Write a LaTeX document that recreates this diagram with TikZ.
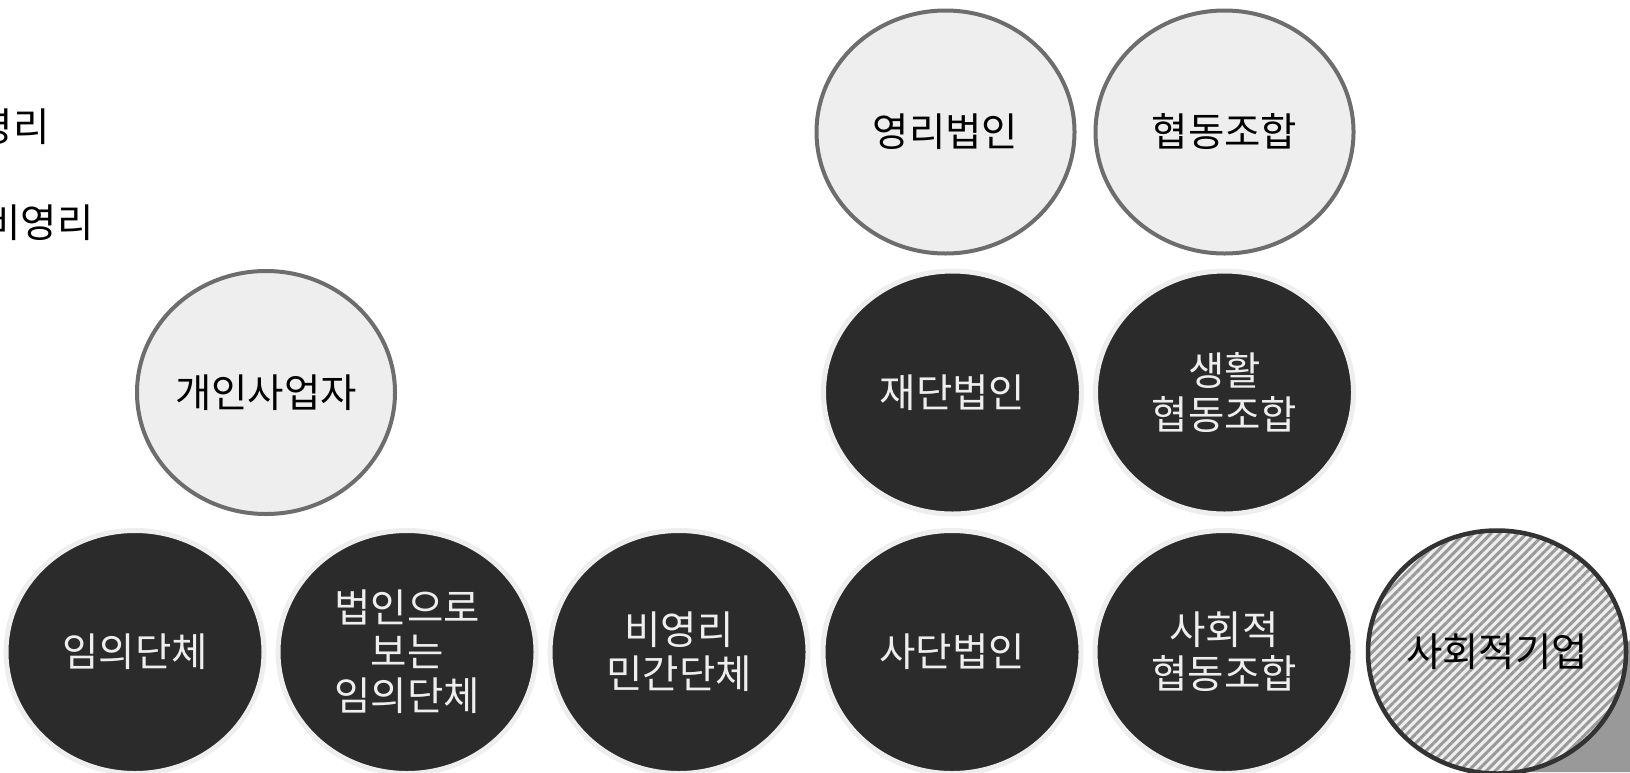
\documentclass[tikz,border=0pt]{standalone}
\usepackage{fontspec}
\newfontfamily\krfont{Noto Sans CJK KR}
\usetikzlibrary{shapes.geometric,patterns.meta}

\definecolor{lightgr}{HTML}{EEEEEE}
\definecolor{rimgr}{HTML}{6D6D6D}
\definecolor{darkgr}{HTML}{2B2B2B}
\definecolor{hatchgr}{HTML}{9A9A9A}
\definecolor{edgegr}{HTML}{333333}
\definecolor{cornergr}{HTML}{999999}

\tikzset{
  org/.style={ellipse, minimum width=5.16cm, minimum height=4.86cm, inner sep=0pt,
    align=center, font=\krfont\fontsize{22.5}{25}\selectfont},
  profit/.style={org, fill=lightgr, draw=rimgr, line width=0.08cm, text=black},
  nonprofit/.style={org, fill=darkgr, draw=lightgr, line width=0.1cm, text=lightgr},
  mixed/.style={org, draw=edgegr, line width=0.09cm, preaction={fill=lightgr},
    pattern={Lines[angle=45,distance=3.6pt,line width=1.7pt]}, pattern color=hatchgr},
  legend/.style={anchor=east, inner sep=0pt, font=\krfont\fontsize{22.5}{25}\selectfont}
}

\begin{document}
\begin{tikzpicture}
\useasboundingbox (0,0) rectangle (32.6,-15.44);

\fill[cornergr] (32.6,-12.8) -- (32.6,-15.44) -- (30.4,-15.44) -- cycle;

\node[legend] (forprofit) at (1.0,-2.54) {영리};
\node[legend] (notprofit) at (1.88,-4.46) {비영리};

% top row
\node[profit] (corp) at (18.91,-2.64) {영리법인};
\node[profit] (coop) at (24.49,-2.64) {협동조합};

% middle row
\node[profit] (sole) at (5.32,-7.85) {개인사업자};
\node[nonprofit] (found) at (19.05,-7.85) {재단법인};
\node[nonprofit] (lifecoop) at (24.49,-7.85) {생활\\협동조합};

% bottom row
\node[nonprofit] (assoc) at (2.7,-13.04) {임의단체};
\node[nonprofit] (quasi) at (8.14,-13.04) {법인으로\\보는\\임의단체};
\node[nonprofit] (ngo) at (13.58,-13.04) {비영리\\민간단체};
\node[nonprofit] (incorp) at (19.04,-13.04) {사단법인};
\node[nonprofit] (socoop) at (24.48,-13.04) {사회적\\협동조합};
\node[mixed] (socent) at (29.94,-13.04) {사회적기업};
\end{tikzpicture}
\end{document}
